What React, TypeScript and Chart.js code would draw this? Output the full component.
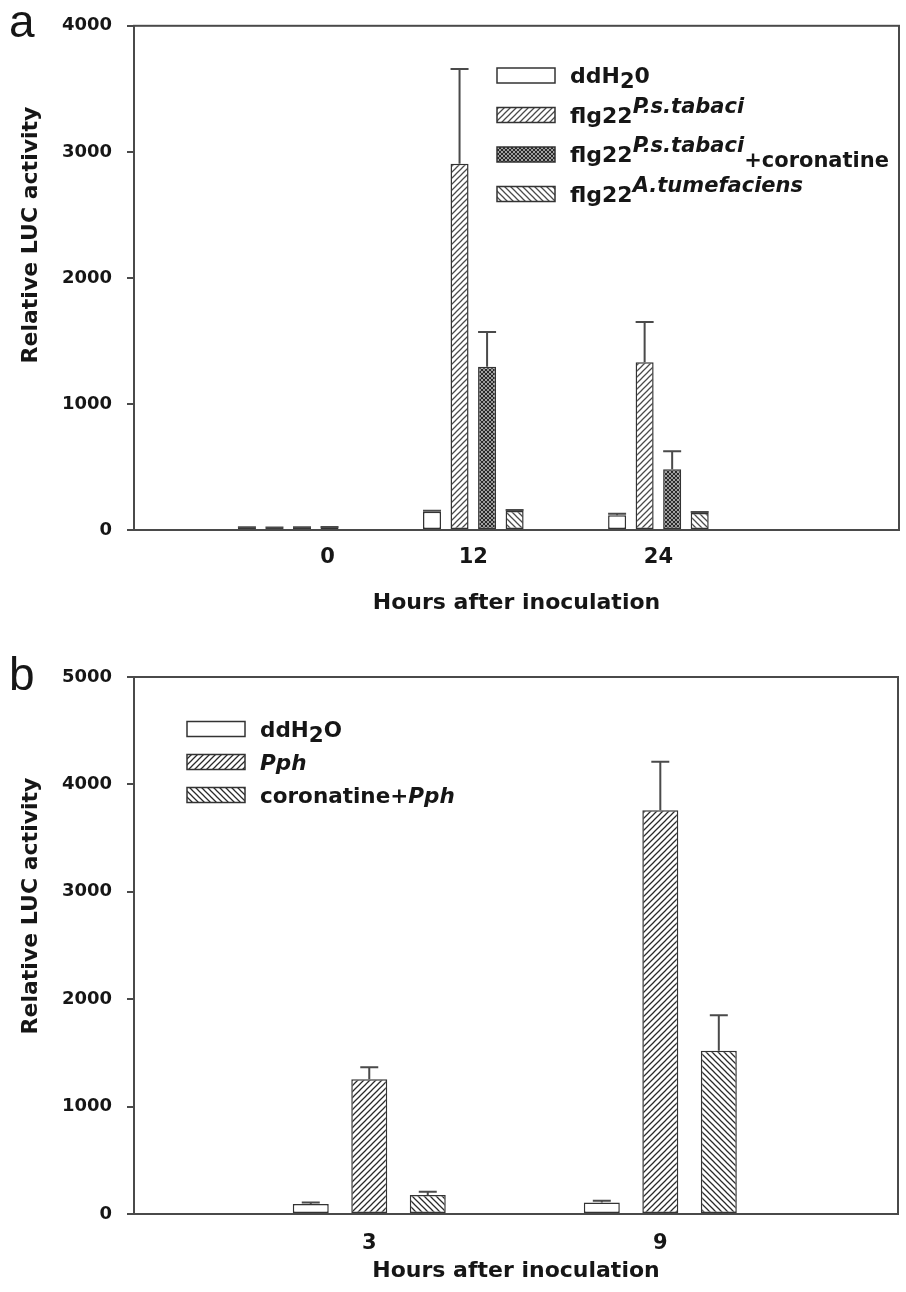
import React, { useEffect, useRef } from 'react';
import { Chart, registerables } from 'chart.js';

Chart.register(...registerables);

const FONT = '"DejaVu Sans", sans-serif';
const TEXT = '#161616';
const AXIS = '#4a4a4a';

// ---------- Panel a data ----------
const hoursA = [0, 12, 24];
const ddH2O_A = [18, 145, 118];
const tabaci_A = [16, 2905, 1330];
const tabaciCor_A = [17, 1295, 482];
const atum_A = [20, 150, 135];
const ddH2O_A_err = [4, 8, 10];
const tabaci_A_err = [4, 752, 320];
const tabaciCor_A_err = [4, 276, 142];
const atum_A_err = [4, 8, 8];
const yTicksA = [0, 1000, 2000, 3000, 4000];
const xTickLabelsA = ['0', '12', '24'];
const xTickPosA = [2.55, 12, 24]; // where the reference prints its x labels (hours)

// ---------- Panel b data ----------
const hoursB = [3, 9];
const ddH2O_B = [92, 106];
const pph_B = [1255, 3760];
const corPph_B = [178, 1520];
const ddH2O_B_err = [14, 18];
const pph_B_err = [112, 452];
const corPph_B_err = [30, 330];
const yTicksB = [0, 1000, 2000, 3000, 4000, 5000];
const xTickLabelsB = ['3', '9'];
const xTickPosB = [3, 9];

// ---------- Text ----------
const yTitle = 'Relative LUC activity';
const xTitle = 'Hours after inoculation';
type Part = { t: string; sup?: boolean; sub?: boolean; it?: boolean };
const legendA: Part[][] = [
  [{ t: 'ddH' }, { t: '2', sub: true }, { t: '0' }],
  [{ t: 'flg22' }, { t: 'P.s.tabaci', sup: true, it: true }],
  [{ t: 'flg22' }, { t: 'P.s.tabaci', sup: true, it: true }, { t: '+coronatine', sub: true }],
  [{ t: 'flg22' }, { t: 'A.tumefaciens', sup: true, it: true }],
];
const legendB: Part[][] = [
  [{ t: 'ddH' }, { t: '2', sub: true }, { t: 'O' }],
  [{ t: 'Pph', it: true }],
  [{ t: 'coronatine+' }, { t: 'Pph', it: true }],
];

function makePattern(kind: string, color: string): CanvasPattern | string {
  if (kind === 'white') return '#ffffff';
  const s = kind === 'cross' ? 4 : 6;
  const c = document.createElement('canvas');
  c.width = s;
  c.height = s;
  const g = c.getContext('2d')!;
  g.fillStyle = '#ffffff';
  g.fillRect(0, 0, s, s);
  g.strokeStyle = color;
  g.lineWidth = kind === 'cross' ? 1.3 : 1.25;
  const fwd = () => {
    g.beginPath();
    g.moveTo(0, s); g.lineTo(s, 0);
    g.moveTo(-1, 1); g.lineTo(1, -1);
    g.moveTo(s - 1, s + 1); g.lineTo(s + 1, s - 1);
    g.stroke();
  };
  const back = () => {
    g.beginPath();
    g.moveTo(0, 0); g.lineTo(s, s);
    g.moveTo(s - 1, -1); g.lineTo(s + 1, 1);
    g.moveTo(-1, s - 1); g.lineTo(1, s + 1);
    g.stroke();
  };
  if (kind === 'fwd') fwd();
  if (kind === 'back') back();
  if (kind === 'cross') { fwd(); back(); }
  return g.createPattern(c, 'repeat')!;
}

function drawRich(ctx: CanvasRenderingContext2D, x: number, y: number, parts: Part[], size: number, subSize: number) {
  let cx = x;
  for (const p of parts) {
    const sz = p.sup || p.sub ? subSize : size;
    ctx.font = `${p.it ? 'italic ' : ''}bold ${sz}px ${FONT}`;
    const dy = p.sup ? -10 : p.sub ? 5 : 0;
    ctx.fillText(p.t, cx, y + dy);
    cx += ctx.measureText(p.t).width;
  }
}

const errorBarsPlugin = {
  id: 'errorBars',
  afterDatasetsDraw(chart: any, _a: any, opts: any) {
    const { ctx } = chart;
    const ys = chart.scales.y;
    chart.data.datasets.forEach((ds: any, i: number) => {
      const meta = chart.getDatasetMeta(i);
      meta.data.forEach((el: any, j: number) => {
        const v = ds.data[j].y;
        const e = ds.errors[j];
        const yt = ys.getPixelForValue(v + e);
        ctx.save();
        ctx.strokeStyle = AXIS;
        ctx.lineWidth = 2;
        ctx.beginPath();
        ctx.moveTo(el.x, el.y);
        ctx.lineTo(el.x, yt);
        ctx.moveTo(el.x - opts.cap, yt);
        ctx.lineTo(el.x + opts.cap, yt);
        ctx.stroke();
        ctx.restore();
      });
    });
  },
};

const framePlugin = {
  id: 'frame',
  afterDatasetsDraw(chart: any) {
    const { ctx, chartArea: a } = chart;
    ctx.save();
    ctx.strokeStyle = AXIS;
    ctx.lineWidth = 2;
    ctx.strokeRect(a.left, a.top, a.right - a.left, a.bottom - a.top);
    ctx.restore();
  },
};

const decorPlugin = {
  id: 'decor',
  afterDraw(chart: any, _a: any, opts: any) {
    const { ctx } = chart;
    const xs = chart.scales.x;
    const area = chart.chartArea;
    ctx.save();
    ctx.fillStyle = TEXT;
    // panel letter
    ctx.font = `normal ${opts.letterSize}px "Liberation Sans", Arial, sans-serif`;
    ctx.textAlign = 'left';
    ctx.textBaseline = 'alphabetic';
    ctx.fillText(opts.letter, opts.letterX, opts.letterY);
    // x tick labels, placed through the x scale
    ctx.font = `bold 21px ${FONT}`;
    ctx.textAlign = 'center';
    ctx.textBaseline = 'middle';
    (opts.xTickPos as number[]).forEach((v, i) => {
      ctx.fillText(opts.xTickLabels[i], xs.getPixelForValue(v), area.bottom + opts.xLabelDy);
    });
    // y title
    ctx.save();
    ctx.translate(opts.yTitleX, opts.yTitleY);
    ctx.rotate(-Math.PI / 2);
    ctx.font = `bold 22px ${FONT}`;
    ctx.textAlign = 'center';
    ctx.textBaseline = 'middle';
    ctx.fillText(yTitle, 0, 0);
    ctx.restore();
    // legend
    const items = opts.legend as { parts: Part[]; fill: any }[];
    items.forEach((it, k) => {
      const cy = opts.legY + k * opts.legStep;
      ctx.fillStyle = it.fill;
      ctx.fillRect(opts.legX, cy - 7.5, 58, 15);
      ctx.strokeStyle = '#333';
      ctx.lineWidth = 1.5;
      ctx.strokeRect(opts.legX, cy - 7.5, 58, 15);
      ctx.fillStyle = TEXT;
      ctx.textAlign = 'left';
      ctx.textBaseline = 'alphabetic';
      drawRich(ctx, opts.legX + 73, cy + 7.5, it.parts, opts.legFont, opts.legSubFont);
    });
    ctx.restore();
  },
};

function barDs(label: string, hours: number[], vals: number[], errs: number[], fill: any, cp: number, bp: number) {
  return {
    label,
    data: hours.map((h, i) => ({ x: h, y: vals[i] })),
    errors: errs,
    backgroundColor: fill,
    borderColor: '#333',
    borderWidth: 1.5,
    borderSkipped: false,
    categoryPercentage: cp,
    barPercentage: bp,
  };
}

function baseOptions(o: any) {
  return {
    responsive: false,
    animation: false,
    events: [],
    layout: { padding: { top: o.padTop, right: o.padRight, bottom: 0, left: 0 } },
    plugins: {
      legend: { display: false },
      tooltip: { enabled: false },
      errorBars: { cap: o.cap },
      decor: o.decor,
    },
    scales: {
      x: {
        type: 'linear',
        min: o.xMin,
        max: o.xMax,
        offset: false,
        grid: { display: false, drawTicks: false, offset: false },
        border: { display: false },
        afterBuildTicks: (s: any) => { s.ticks = o.hours.map((v: number) => ({ value: v })); },
        afterFit: (s: any) => { s.height = o.xHeight; },
        ticks: { display: false, autoSkip: false },
        title: {
          display: true,
          text: xTitle,
          color: TEXT,
          font: { family: FONT, size: 22, weight: 'bold' },
          padding: { top: 0, bottom: o.xTitlePad },
        },
      },
      y: {
        type: 'linear',
        min: 0,
        max: o.yMax,
        grid: { drawOnChartArea: false, drawTicks: true, tickLength: 7, color: AXIS, lineWidth: 2 },
        border: { display: false },
        afterBuildTicks: (s: any) => { s.ticks = o.yTicks.map((v: number) => ({ value: v })); },
        afterFit: (s: any) => { s.width = 134; },
        ticks: {
          padding: 15,
          color: TEXT,
          font: { family: FONT, size: 18, weight: 'bold' },
          callback: (v: any) => String(v),
        },
      },
    },
  };
}

export default function App() {
  const refA = useRef<HTMLCanvasElement>(null);
  const refB = useRef<HTMLCanvasElement>(null);

  useEffect(() => {
    const white = makePattern('white', '#333');
    const fwdA = makePattern('fwd', '#4a4a4a');
    const crossA = makePattern('cross', '#2a2a2a');
    const backA = makePattern('back', '#4a4a4a');
    const fwdB = makePattern('fwd', '#2a2a2a');
    const backB = makePattern('back', '#2a2a2a');

    const cpA = 0.595, bpA = 0.655;
    const chartA = new Chart(refA.current!, {
      type: 'bar',
      data: {
        datasets: [
          barDs('ddH20', hoursA, ddH2O_A, ddH2O_A_err, white, cpA, bpA),
          barDs('flg22 P.s.tabaci', hoursA, tabaci_A, tabaci_A_err, fwdA, cpA, bpA),
          barDs('flg22 P.s.tabaci+coronatine', hoursA, tabaciCor_A, tabaciCor_A_err, crossA, cpA, bpA),
          barDs('flg22 A.tumefaciens', hoursA, atum_A, atum_A_err, backA, cpA, bpA),
        ] as any,
      },
      options: baseOptions({
        padTop: 25, padRight: 7, cap: 9, xMin: -10, xMax: 39.6, hours: hoursA,
        xHeight: 110, xTitlePad: 24, yMax: 4000, yTicks: yTicksA,
        decor: {
          letter: 'a', letterSize: 46, letterX: 9, letterY: 37,
          xTickPos: xTickPosA, xTickLabels: xTickLabelsA, xLabelDy: 28,
          yTitleX: 31, yTitleY: 235,
          legX: 497, legY: 75.5, legStep: 39.5, legFont: 22, legSubFont: 21,
          legend: [
            { parts: legendA[0], fill: white },
            { parts: legendA[1], fill: fwdA },
            { parts: legendA[2], fill: crossA },
            { parts: legendA[3], fill: backA },
          ],
        },
      }) as any,
      plugins: [errorBarsPlugin, framePlugin, decorPlugin],
    });

    const cpB = 0.603, bpB = 0.615;
    const chartB = new Chart(refB.current!, {
      type: 'bar',
      data: {
        datasets: [
          barDs('ddH2O', hoursB, ddH2O_B, ddH2O_B_err, white, cpB, bpB),
          barDs('Pph', hoursB, pph_B, pph_B_err, fwdB, cpB, bpB),
          barDs('coronatine+Pph', hoursB, corPph_B, corPph_B_err, backB, cpB, bpB),
        ] as any,
      },
      options: baseOptions({
        padTop: 37, padRight: 8, cap: 9, xMin: -1.85, xMax: 13.9, hours: hoursB,
        xHeight: 78, xTitlePad: 8, yMax: 5000, yTicks: yTicksB,
        decor: {
          letter: 'b', letterSize: 46, letterX: 9, letterY: 50,
          xTickPos: xTickPosB, xTickLabels: xTickLabelsB, xLabelDy: 30,
          yTitleX: 31, yTitleY: 266,
          legX: 187, legY: 89, legStep: 33, legFont: 21.5, legSubFont: 21.5,
          legend: [
            { parts: legendB[0], fill: white },
            { parts: legendB[1], fill: fwdB },
            { parts: legendB[2], fill: backB },
          ],
        },
      }) as any,
      plugins: [errorBarsPlugin, framePlugin, decorPlugin],
    });

    return () => {
      chartA.destroy();
      chartB.destroy();
    };
  }, []);

  return (
    <div style={{ position: 'absolute', left: 0, top: 0, width: 906, height: 1292, background: '#fff' }}>
      <canvas ref={refA} width={906} height={640} style={{ display: 'block', width: 906, height: 640 }} />
      <canvas ref={refB} width={906} height={652} style={{ display: 'block', width: 906, height: 652 }} />
    </div>
  );
}
